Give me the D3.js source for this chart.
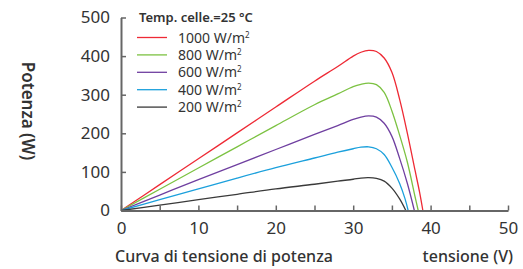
<!DOCTYPE html>
<html>
<head>
<meta charset="utf-8">
<script src="https://cdn.jsdelivr.net/npm/d3@7"></script>
<style>
  body { margin: 0; background: #fff; }
  svg text { font-family: "Noto Sans", "Liberation Sans", sans-serif; fill: #333; }
</style>
</head>
<body>
<svg id="chart" width="523" height="269"></svg>
<script>
// voltage (V) / power (W) points, one list per irradiance
var v1000 = [0, 5, 10, 15, 20, 25, 28, 30, 31, 32, 33, 34, 35, 36, 37, 38, 38.6, 39];
var p1000 = [0, 67, 134, 201, 268, 335, 373, 400, 410, 415, 412, 395, 358, 288, 200, 103, 45, 0];

var v800 = [0, 5, 10, 15, 20, 25, 28, 30, 31, 32, 33, 34, 35, 36, 37, 38, 38.4];
var p800 = [0, 55, 110, 165, 220, 274, 302, 321, 327, 330, 326, 306, 258, 195, 125, 35, 0];

var v600 = [0, 5, 10, 15, 20, 25, 28, 30, 31, 32, 33, 34, 35, 36, 37, 37.9];
var p600 = [0, 40, 80, 119, 158, 197, 220, 236, 242, 245, 242, 226, 192, 135, 70, 0];

var v400 = [0, 5, 10, 15, 20, 25, 28, 30, 31, 32, 33, 34, 35, 36, 36.7, 37.1];
var p400 = [0, 28, 56, 84, 111, 136, 151, 160, 164, 165, 160, 145, 112, 70, 30, 0];

var v200 = [0, 5, 10, 15, 20, 25, 28, 30, 31, 32, 33, 34, 35, 36, 36.8];
var p200 = [0, 14, 28, 42, 56, 68, 76, 81, 84, 85, 83, 76, 58, 30, 0];

var seriesNames = ["1000", "800", "600", "400", "200"];
var seriesColors = ["#ee2a35", "#7cc242", "#6f3fa0", "#1ba0dc", "#3a3a3a"];
var xTicks = [0, 5, 10, 15, 20, 25, 30, 35, 40, 45, 50];
var yTicks = [0, 100, 200, 300, 400, 500];

var series = [
    { name: seriesNames[0], v: v1000, p: p1000 },
    { name: seriesNames[1], v: v800, p: p800 },
    { name: seriesNames[2], v: v600, p: p600 },
    { name: seriesNames[3], v: v400, p: p400 },
    { name: seriesNames[4], v: v200, p: p200 }
];

var svg = d3.select("#chart");

var x = d3.scaleLinear().domain([0, 50]).range([121, 508]);
var y = d3.scaleLinear().domain([0, 500]).range([210.5, 17.5]);

// curves
var line = d3.line()
    .x(function(d) { return x(d[0]); })
    .y(function(d) { return y(d[1]); })
    .curve(d3.curveCatmullRom.alpha(0.5));

series.forEach(function(s, i) {
    var pts = s.v.map(function(v, j) { return [v, s.p[j]]; });
    svg.append("path")
        .attr("d", line(pts))
        .attr("fill", "none")
        .attr("stroke", seriesColors[i])
        .attr("stroke-width", 1.3);
});

// axes, ticks pointing inward
var xAxis = d3.axisBottom(x)
    .tickValues(xTicks)
    .tickSizeInner(-5)
    .tickSizeOuter(0)
    .tickPadding(11)
    .tickFormat(function(d) { return d % 10 === 0 ? d : ""; });

var yAxis = d3.axisLeft(y)
    .tickValues(yTicks)
    .tickSizeInner(-5)
    .tickSizeOuter(0)
    .tickPadding(11);

var gx = svg.append("g").attr("transform", "translate(0," + y(0) + ")").call(xAxis);
var gy = svg.append("g").attr("transform", "translate(" + x(0) + ",0)").call(yAxis);

[gx, gy].forEach(function(g) {
    g.select(".domain").attr("stroke", "#666").attr("stroke-width", 2);
    g.selectAll(".tick line").attr("stroke", "#666").attr("stroke-width", 1.5);
    g.selectAll(".tick text")
        .attr("font-family", "Noto Sans")
        .attr("font-size", 17)
        .attr("fill", "#333");
});

// legend
var legend = svg.append("g");
legend.append("text")
    .attr("x", 139)
    .attr("y", 22)
    .attr("font-size", 13)
    .attr("font-weight", 600)
    .text("Temp. celle.=25 °C");

series.forEach(function(s, i) {
    var ly = 37.5 + i * 17.4;
    legend.append("line")
        .attr("x1", 137).attr("x2", 167)
        .attr("y1", ly).attr("y2", ly)
        .attr("stroke", seriesColors[i])
        .attr("stroke-width", 1.3);
    var t = legend.append("text")
        .attr("x", 178)
        .attr("y", ly + 5)
        .attr("font-size", 14);
    t.append("tspan").text(s.name + " W/m");
    t.append("tspan").attr("font-size", 8).attr("dy", -5).text("2");
});

// axis titles
svg.append("text")
    .attr("transform", "translate(22,111) rotate(90)")
    .attr("text-anchor", "middle")
    .attr("font-family", "Liberation Sans")
    .attr("font-size", 17)
    .attr("font-weight", 600)
    .attr("fill", "#222")
    .text("Potenza (W)");

svg.append("text")
    .attr("x", 115)
    .attr("y", 262)
    .attr("font-size", 16)
    .attr("font-weight", 500)
    .text("Curva di tensione di potenza");

svg.append("text")
    .attr("x", 513)
    .attr("y", 262)
    .attr("text-anchor", "end")
    .attr("font-size", 16)
    .attr("font-weight", 500)
    .text("tensione (V)");
</script>
</body>
</html>
